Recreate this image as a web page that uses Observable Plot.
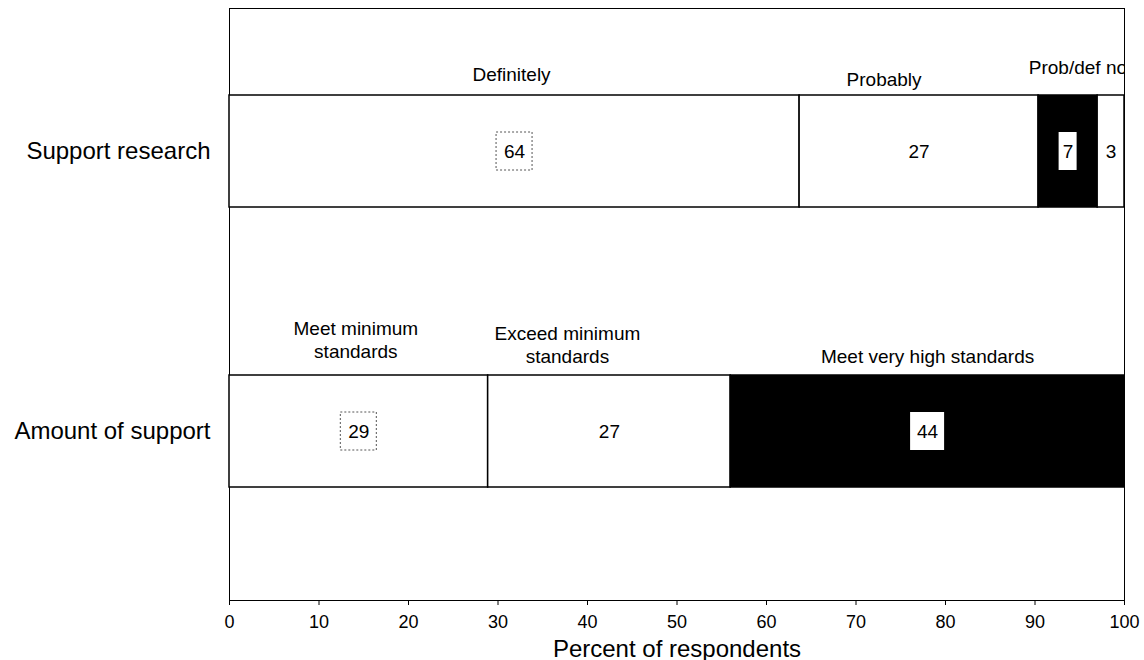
<!DOCTYPE html>
<html>
<head>
<meta charset="utf-8">
<script src="https://cdn.jsdelivr.net/npm/d3@7"></script>
<script src="https://cdn.jsdelivr.net/npm/@observablehq/plot@0.6"></script>
<style>
  html, body { margin: 0; padding: 0; background: #fff; }
  #chart svg { display: block; }
</style>
</head>
<body>
<div id="chart"></div>
<script>
// ---- data ----
const rows = ["Support research", "Amount of support"];
const researchCategories = ["Definitely", "Probably", "Probably not", "Definitely not"];
const researchValues = [63.7, 26.7, 6.6, 3.0];
const researchFills = ["white", "white", "black", "white"];
const amountCategories = ["Meet minimum standards", "Exceed minimum standards", "Meet very high standards"];
const amountValues = [28.9, 27.1, 44.0];
const amountFills = ["white", "white", "black"];
const xTicks = [0, 10, 20, 30, 40, 50, 60, 70, 80, 90, 100];
const headerTexts = ["Definitely", "Probably", "Prob/def not", "Meet minimum\nstandards", "Exceed minimum\nstandards", "Meet very high standards"];

// ---- build stacked segments ----
function stack(row, cats, vals, fills) {
  let acc = 0;
  return cats.map((c, i) => {
    const s = {row, category: c, value: vals[i], x1: acc, x2: acc + vals[i], fill: fills[i]};
    acc += vals[i];
    s.mid = (s.x1 + s.x2) / 2;
    s.label = String(Math.round(vals[i]));
    return s;
  });
}
const segA = stack(rows[0], researchCategories, researchValues, researchFills);
const segB = stack(rows[1], amountCategories, amountValues, amountFills);
const segments = [...segA, ...segB];

// header anchors (segment centres; "Prob/def not" spans the last two segments)
const headers = [
  {row: rows[0], x: segA[0].mid, text: headerTexts[0]},
  {row: rows[0], x: segA[1].mid, text: headerTexts[1]},
  {row: rows[0], x: (segA[2].x1 + segA[3].x2) / 2, text: headerTexts[2]},
  {row: rows[1], x: segB[0].mid, text: headerTexts[3]},
  {row: rows[1], x: segB[1].mid, text: headerTexts[4]},
  {row: rows[1], x: segB[2].mid, text: headerTexts[5]}
];
// layout offsets (pixels) for header labels
const headerDx = [-3, -35, -1, -3, -42, 0];
const headerDy = [-78, -73, -85, -92, -87, -76];

const font = "'Liberation Sans', Arial, Helvetica, sans-serif";

const boxMark = (seg, w, opts) => Plot.barX([seg], {
  x1: "mid", x2: "mid", y: "row",
  insetLeft: -w / 2, insetRight: -w / 2, insetTop: 37, insetBottom: 37,
  ...opts
});

const plot = Plot.plot({
  width: 1144,
  height: 660,
  marginLeft: 229,
  marginRight: 20,
  marginTop: 8,
  marginBottom: 60,
  style: {fontFamily: font, background: "white", color: "black"},
  x: {domain: [0, 100]},
  y: {type: "band", domain: rows, range: [94, 487], paddingInner: 0.6, paddingOuter: 0},
  marks: [
    Plot.frame({stroke: "black", strokeWidth: 1}),
    Plot.barX(segments, {x1: "x1", x2: "x2", y: "row", fill: "fill", stroke: "black", strokeWidth: 1.5}),
    boxMark(segA[0], 36, {fill: "white", stroke: "#555", strokeDasharray: "2,2", strokeWidth: 1}),
    boxMark(segB[0], 36, {fill: "white", stroke: "#555", strokeDasharray: "2,2", strokeWidth: 1}),
    boxMark(segA[2], 18, {fill: "white"}),
    boxMark(segB[2], 34, {fill: "white"}),
    Plot.text(segments, {x: "mid", y: "row", text: "label", fill: "black", fontSize: 19}),
    ...headers.map((h, i) => Plot.text([h], {
      x: "x", y: "row", text: "text", fontSize: 19, lineHeight: 1.2,
      lineAnchor: "middle", dx: headerDx[i], dy: headerDy[i], fill: "black", clip: true
    })),
    Plot.axisY({tickSize: 0, tickPadding: 19, fontSize: 24, label: null}),
    Plot.axisX({ticks: xTicks, tickSize: 5, tickPadding: 10, fontSize: 18,
      label: "Percent of respondents", labelAnchor: "center", labelArrow: "none", labelOffset: 56})
  ]
});
// enlarge the x-axis title
plot.querySelectorAll("g[aria-label='x-axis label'] text").forEach(t => t.setAttribute("font-size", 24));
document.getElementById("chart").appendChild(plot);
</script>
</body>
</html>
